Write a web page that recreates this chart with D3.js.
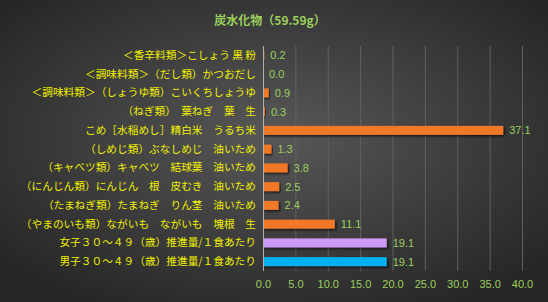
<!DOCTYPE html>
<html>
<head>
<meta charset="utf-8">
<script src="https://cdn.jsdelivr.net/npm/d3@7"></script>
<style>
  html, body { margin: 0; padding: 0; background: #333; }
  svg { display: block; }
</style>
</head>
<body>
<svg id="chart"></svg>
<script>
const W = 548, H = 302;

const title = "炭水化物（59.59g）";
const categories = [
  "＜香辛料類＞こしょう 黒 粉",
  "＜調味料類＞（だし類）かつおだし",
  "＜調味料類＞（しょうゆ類）こいくちしょうゆ",
  "（ねぎ類）　葉ねぎ　葉　生",
  "こめ［水稲めし］精白米　うるち米",
  "（しめじ類）ぶなしめじ　油いため",
  "（キャベツ類）キャベツ　結球葉　油いため",
  "（にんじん類）にんじん　根　皮むき　油いため",
  "（たまねぎ類）たまねぎ　りん茎　油いため",
  "（やまのいも類）ながいも　ながいも　塊根　生",
  "女子３０～４９（歳）推進量/１食あたり",
  "男子３０～４９（歳）推進量/１食あたり"
];
const values = [0.2, 0.0, 0.9, 0.3, 37.1, 1.3, 3.8, 2.5, 2.4, 11.1, 19.1, 19.1];
const barColors = ["#f07828", "#f07828", "#f07828", "#f07828", "#f07828", "#f07828",
  "#f07828", "#f07828", "#f07828", "#f07828", "#cc99f5", "#00b0f0"];
const xTicks = [0, 5, 10, 15, 20, 25, 30, 35, 40];

const margin = { left: 263, right: 26, top: 46, bottom: 31 };

const svg = d3.select("#chart").attr("width", W).attr("height", H);

const defs = svg.append("defs");
const bg = defs.append("radialGradient").attr("id", "bg")
  .attr("cx", "50%").attr("cy", "45%").attr("r", "65%");
bg.append("stop").attr("offset", "0%").attr("stop-color", "#585858");
bg.append("stop").attr("offset", "100%").attr("stop-color", "#262626");

const sh = defs.append("filter").attr("id", "shadow")
  .attr("x", "-5%").attr("y", "-50%").attr("width", "115%").attr("height", "250%");
sh.append("feDropShadow").attr("dx", 1.5).attr("dy", 1.5).attr("stdDeviation", 1)
  .attr("flood-color", "#000").attr("flood-opacity", 0.7);

svg.append("rect").attr("width", W).attr("height", H).attr("fill", "url(#bg)");

svg.append("text")
  .attr("x", 270).attr("y", 25)
  .attr("text-anchor", "middle")
  .attr("font-family", "'Noto Sans CJK JP', sans-serif")
  .attr("font-size", 12).attr("font-weight", "bold")
  .attr("fill", "#9bcf5c")
  .text(title);

const x = d3.scaleLinear().domain([0, 40]).range([margin.left, W - margin.right]);
const y = d3.scaleBand().domain(categories)
  .range([margin.top, H - margin.bottom]).paddingInner(0.52).paddingOuter(0.26);

// grid lines
svg.append("g").selectAll("line").data(xTicks.slice(1)).join("line")
  .attr("x1", d => x(d) + 0.5).attr("x2", d => x(d) + 0.5)
  .attr("y1", margin.top).attr("y2", H - margin.bottom)
  .attr("stroke", "#606060").attr("stroke-width", 1);

// x axis labels
const xAxis = d3.axisBottom(x).tickValues(xTicks).tickFormat(d3.format(".1f")).tickSize(0).tickPadding(9);
const gx = svg.append("g").attr("transform", `translate(0,${H - margin.bottom})`).call(xAxis);
gx.select(".domain").remove();
gx.selectAll("text")
  .attr("fill", "#9bcf5c")
  .attr("font-family", "'Liberation Sans', Arial, sans-serif")
  .attr("font-size", 11);

// bars
svg.append("g").selectAll("rect").data(values).join("rect")
  .attr("x", x(0))
  .attr("y", (d, i) => y(categories[i]))
  .attr("width", d => x(d) - x(0))
  .attr("height", y.bandwidth())
  .attr("fill", (d, i) => barColors[i])
  .attr("filter", "url(#shadow)");

// value labels
svg.append("g").selectAll("text").data(values).join("text")
  .attr("x", d => x(d) + 6)
  .attr("y", (d, i) => y(categories[i]) + y.bandwidth() / 2)
  .attr("dy", "0.36em")
  .attr("fill", "#9bcf5c")
  .attr("font-family", "'Liberation Sans', Arial, sans-serif")
  .attr("font-size", 11)
  .text(d => d.toFixed(1));

// y axis
const yAxis = d3.axisLeft(y).tickSize(0).tickPadding(7);
const gy = svg.append("g").attr("transform", `translate(${x(0)},0)`).call(yAxis);
gy.select(".domain")
  .attr("stroke", "#b0b0b0").attr("stroke-width", 1)
  .attr("d", `M0.5,${margin.top}V${H - margin.bottom}`);
gy.selectAll("text")
  .attr("fill", "#f0f000")
  .attr("font-family", "'Noto Sans CJK JP', sans-serif")
  .attr("font-size", 10.7);
</script>
</body>
</html>
